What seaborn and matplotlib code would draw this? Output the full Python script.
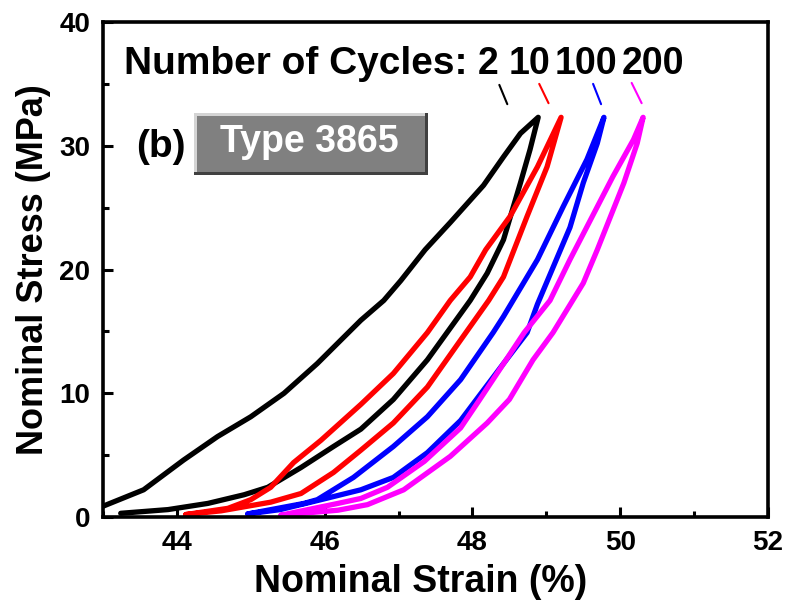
import numpy as np
import pandas as pd
import matplotlib.pyplot as plt
import seaborn as sns
from matplotlib.patches import Rectangle
from matplotlib.ticker import MultipleLocator

# значения (петли гистерезиса: нагрузка -> разгрузка)
cycles = ['2', '10', '100', '200']
colors = ['black', 'red', '#0000ff', '#ff00ff']

c2_load_x = [42.9, 42.97, 43.55, 44.09, 44.55, 45.0, 45.45, 45.9, 46.22, 46.49, 46.8, 47.03,
             47.36, 47.7, 47.97, 48.15, 48.42, 48.65, 48.89]
c2_load_y = [0.5, 0.8, 2.2, 4.6, 6.5, 8.1, 10.0, 12.4, 14.3, 15.9, 17.5, 19.1,
             21.6, 23.8, 25.6, 26.8, 29.1, 31.0, 32.3]
c2_unload_x = [48.78, 48.65, 48.42, 48.2, 47.97, 47.39, 46.93, 46.49, 46.12, 45.68, 45.23,
               44.91, 44.42, 43.88, 43.24]
c2_unload_y = [29.7, 27.0, 22.4, 19.7, 17.5, 12.7, 9.5, 7.1, 5.7, 4.0, 2.4,
               1.8, 1.1, 0.6, 0.3]

c10_load_x = [44.12, 44.69, 45.0, 45.27, 45.58, 45.95, 46.49, 46.93, 47.39, 47.7, 47.97,
              48.18, 48.51, 48.88, 49.2]
c10_load_y = [0.2, 0.7, 1.4, 2.4, 4.4, 6.2, 9.1, 11.6, 14.9, 17.5, 19.4,
              21.6, 24.3, 28.3, 32.3]
c10_unload_x = [49.01, 48.74, 48.42, 48.22, 47.84, 47.39, 46.93, 46.49, 46.12, 45.68, 45.27,
                44.6, 44.12]
c10_unload_y = [28.3, 24.3, 19.4, 17.5, 14.3, 10.5, 7.6, 5.4, 3.6, 1.9, 1.2,
                0.5, 0.2]

c100_load_x = [44.96, 45.72, 45.9, 46.39, 46.93, 47.39, 47.84, 48.28, 48.42, 48.88, 49.23,
               49.55, 49.78]
c100_load_y = [0.25, 1.1, 1.4, 3.2, 5.7, 8.1, 11.1, 14.9, 16.2, 20.8, 25.1,
               28.9, 32.3]
c100_unload_x = [49.69, 49.5, 49.32, 48.88, 48.74, 48.42, 47.84, 47.39, 46.93, 46.49, 45.95,
                 45.4, 44.96]
c100_unload_y = [30.2, 27.0, 23.4, 17.2, 14.9, 12.4, 7.8, 5.2, 3.2, 2.2, 1.4,
                 0.6, 0.25]

c200_load_x = [45.41, 46.18, 46.49, 46.85, 47.35, 47.84, 48.1, 48.7, 49.05, 49.32, 49.9,
               50.18, 50.31]
c200_load_y = [0.15, 1.1, 1.5, 2.4, 4.5, 7.2, 9.5, 14.9, 17.5, 20.8, 27.5,
               30.5, 32.3]
c200_unload_x = [50.23, 50.05, 49.69, 49.5, 49.09, 48.82, 48.5, 48.2, 47.7, 47.07, 46.58,
                 46.18, 45.41]
c200_unload_y = [30.2, 27.0, 21.6, 18.9, 14.9, 12.7, 9.5, 7.6, 4.9, 2.2, 1.0,
                 0.55, 0.15]

loops = {
    '2': (c2_load_x + c2_unload_x, c2_load_y + c2_unload_y),
    '10': (c10_load_x + c10_unload_x, c10_load_y + c10_unload_y),
    '100': (c100_load_x + c100_unload_x, c100_load_y + c100_unload_y),
    '200': (c200_load_x + c200_unload_x, c200_load_y + c200_unload_y),
}
frames = []
for n, (xs, ys) in loops.items():
    frames.append(pd.DataFrame({'strain': xs, 'stress': ys, 'cycle': n}))
df = pd.concat(frames, ignore_index=True)

sns.set_style('ticks')
plt.rcParams['font.family'] = ['Liberation Sans', 'DejaVu Sans']
plt.rcParams['font.weight'] = 'bold'
plt.rcParams['axes.labelweight'] = 'bold'
for k in ['text.color', 'axes.labelcolor', 'xtick.color', 'ytick.color', 'axes.edgecolor']:
    plt.rcParams[k] = 'black'

fig = plt.figure(figsize=(7.88, 6.03), dpi=100)
ax = fig.add_axes([0.1307, 0.1426, 0.8439, 0.8209])

sns.lineplot(data=df, x='strain', y='stress', hue='cycle', hue_order=cycles,
             palette=dict(zip(cycles, colors)), sort=False, estimator=None,
             units='cycle', legend=False, ax=ax)
for ln in ax.get_lines():
    ln.set_linewidth(3.8)
    ln.set_solid_capstyle('round')
    ln.set_solid_joinstyle('round')

ax.set_xlim(43, 52)
ax.set_ylim(0, 40)
ax.xaxis.set_major_locator(MultipleLocator(2))
ax.xaxis.set_minor_locator(MultipleLocator(1))
ax.yaxis.set_major_locator(MultipleLocator(10))
ax.yaxis.set_minor_locator(MultipleLocator(5))
ax.tick_params(which='both', direction='in', width=2.2, labelsize=20, top=False, right=False)
ax.tick_params(which='major', length=7, pad=9)
ax.tick_params(which='minor', length=4)
for lab in ax.get_xticklabels() + ax.get_yticklabels():
    lab.set_fontweight('bold')
for sp in ax.spines.values():
    sp.set_linewidth(2.6)
    sp.set_visible(True)

ax.set_xlabel('Nominal Strain (%)', fontsize=27, fontweight='bold', labelpad=6, x=0.477)
ax.set_ylabel('Nominal Stress (MPa)', fontsize=26, fontweight='bold', labelpad=6)

# подпись с числом циклов
ax.text(0.032, 0.895, 'Number of Cycles:', transform=ax.transAxes, fontsize=28,
        fontweight='bold', ha='left', va='baseline')
num_x = [0.579, 0.641, 0.726, 0.827]
for n, xx in zip(cycles, num_x):
    ax.text(xx, 0.895, n, transform=ax.transAxes, fontsize=27, fontweight='bold',
            ha='center', va='baseline')
marks = [((0.596, 0.608), (0.873, 0.834)), ((0.656, 0.670), (0.875, 0.836)),
         ((0.737, 0.749), (0.875, 0.834)), ((0.795, 0.810), (0.877, 0.836))]
for (mx, my), c in zip(marks, colors):
    ax.plot(mx, my, transform=ax.transAxes, color=c, lw=1.5, clip_on=False)

# (b) и серая плашка
ax.text(0.087, 0.727, '(b)', transform=ax.transAxes, fontsize=28, fontweight='bold',
        ha='center', va='baseline')
bx0, bx1, by0, by1 = 0.137, 0.489, 0.691, 0.816
dx, dy = 0.0045, 0.006
ax.add_patch(Rectangle((bx0, by0), bx1 - bx0, by1 - by0, transform=ax.transAxes,
                       fc='#404040', ec='none', zorder=5))
ax.add_patch(Rectangle((bx0, by0 + dy), bx1 - bx0 - dx, by1 - by0 - dy, transform=ax.transAxes,
                       fc='#d4d4d4', ec='none', zorder=5))
ax.add_patch(Rectangle((bx0 + dx, by0 + dy), bx1 - bx0 - 2 * dx, by1 - by0 - 2 * dy,
                       transform=ax.transAxes, fc='#808080', ec='none', zorder=5))
ax.text(0.311, 0.737, 'Type 3865', transform=ax.transAxes, fontsize=27, fontweight='bold',
        ha='center', va='baseline', color='white', zorder=6)

fig.savefig('out.png', dpi=100)
